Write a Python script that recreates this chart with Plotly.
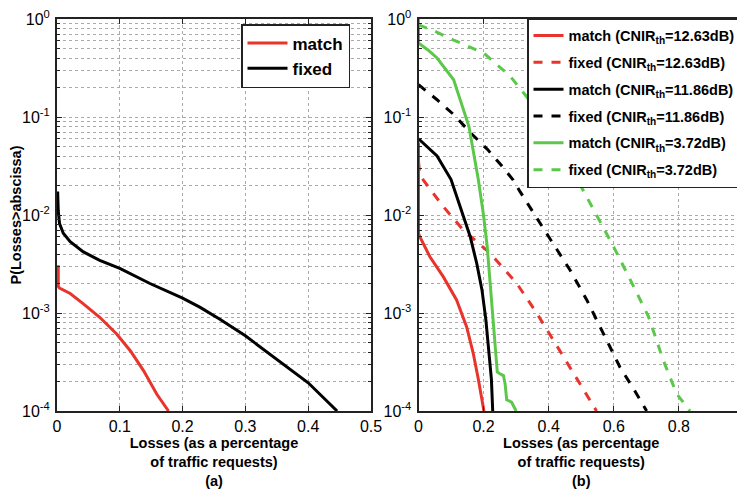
import plotly.graph_objects as go

# ---------- data: panel (a) ----------
a_match_x = [0.002, 0.002, 0.004, 0.021, 0.042, 0.068, 0.095, 0.117, 0.138, 0.159, 0.1776]
a_match_y = [3.07e-3, 1.87e-3, 1.8e-3, 1.58e-3, 1.24e-3, 9.05e-4, 6.1e-4, 4.1e-4, 2.57e-4, 1.48e-4, 1.0e-4]
a_fixed_x = [0.001, 0.002, 0.004, 0.010, 0.021, 0.042, 0.068, 0.1, 0.148, 0.2, 0.228, 0.26, 0.3, 0.35, 0.4, 0.446]
a_fixed_y = [1.74e-2, 1.1e-2, 8.2e-3, 6.5e-3, 5.35e-3, 4.2e-3, 3.45e-3, 2.85e-3, 2.0e-3, 1.42e-3, 1.14e-3, 8.6e-4, 5.85e-4, 3.37e-4, 1.94e-4, 1.0e-4]

# ---------- data: panel (b) ----------
b_m1263_x = [0.0, 0.0, 0.004, 0.035, 0.076, 0.117, 0.148, 0.168, 0.184, 0.201]
b_m1263_y = [5.5e-2, 6.5e-3, 6.0e-3, 3.75e-3, 2.35e-3, 1.36e-3, 7.2e-4, 3.9e-4, 2.1e-4, 1.0e-4]
b_f1263_x = [0.0, 0.004, 0.015, 0.076, 0.138, 0.22, 0.302, 0.363, 0.414, 0.465, 0.505, 0.547]
b_f1263_y = [3.5e-2, 2.6e-2, 2.27e-2, 1.22e-2, 7.0e-3, 4.07e-3, 2.0e-3, 1.0e-3, 5.3e-4, 2.8e-4, 1.7e-4, 1.0e-4]
b_m1186_x = [0.0, 0.057, 0.1, 0.128, 0.159, 0.179, 0.195, 0.207, 0.217, 0.224, 0.228]
b_m1186_y = [6.0e-2, 4.0e-2, 2.3e-2, 1.22e-2, 6.0e-3, 3.2e-3, 1.72e-3, 8.5e-4, 3.9e-4, 2.1e-4, 1.0e-4]
b_f1186_x = [0.0, 0.057, 0.108, 0.16, 0.211, 0.255, 0.291, 0.312, 0.4, 0.465, 0.517, 0.568, 0.619, 0.66, 0.701]
b_f1186_y = [0.214, 0.15, 0.106, 6.9e-2, 4.7e-2, 3.2e-2, 2.27e-2, 1.73e-2, 6.0e-3, 2.76e-3, 1.36e-3, 6.1e-4, 2.8e-4, 1.7e-4, 1.0e-4]
b_m372_x = [0.0, 0.0, 0.03, 0.057, 0.108, 0.155, 0.184, 0.199, 0.211, 0.219, 0.226, 0.234, 0.242, 0.25, 0.261, 0.266, 0.271, 0.286, 0.30]
b_m372_y = [1.0, 0.57, 0.48, 0.40, 0.24, 8.0e-2, 2.27e-2, 1.04e-2, 4.8e-3, 2.2e-3, 1.0e-3, 4.5e-4, 2.5e-4, 2.4e-4, 2.3e-4, 1.9e-4, 1.3e-4, 1.23e-4, 1.0e-4]
b_f372_x = [0.0, 0.05, 0.108, 0.2, 0.282, 0.333, 0.4, 0.45, 0.496, 0.55, 0.6, 0.65, 0.706, 0.752, 0.793, 0.834]
b_f372_y = [0.87, 0.75, 0.61, 0.45, 0.26, 0.16, 7.5e-2, 3.6e-2, 2.05e-2, 9.5e-3, 4.7e-3, 2.2e-3, 9.3e-4, 3.3e-4, 1.5e-4, 1.0e-4]

a_xticks = [0, 0.1, 0.2, 0.3, 0.4, 0.5]
a_xticklabels = ["0", "0.1", "0.2", "0.3", "0.4", "0.5"]
b_xticks = [0, 0.2, 0.4, 0.6, 0.8, 1.0]
b_xticklabels = ["0", "0.2", "0.4", "0.6", "0.8", "1"]
y_ticks = [1e-4, 1e-3, 1e-2, 1e-1, 1]
y_ticklabels = ["10<sup>-4</sup>", "10<sup>-3</sup>", "10<sup>-2</sup>", "10<sup>-1</sup>", "10<sup>0</sup>"]
y_minor = [m * 10 ** e for e in range(-4, 0) for m in range(2, 10)]

RED = "#e8342b"
BLACK = "#000000"
GREEN = "#5cc84a"
LW = 3

fig = go.Figure()

fig.add_trace(go.Scatter(x=a_match_x, y=a_match_y, mode="lines", name="<b>match</b>",
                         line=dict(color=RED, width=LW), xaxis="x", yaxis="y", legend="legend"))
fig.add_trace(go.Scatter(x=a_fixed_x, y=a_fixed_y, mode="lines", name="<b>fixed</b>",
                         line=dict(color=BLACK, width=LW), xaxis="x", yaxis="y", legend="legend"))

b_series = [
    (b_m1263_x, b_m1263_y, "match (CNIR<sub>th</sub>=12.63dB)", RED, "solid"),
    (b_f1263_x, b_f1263_y, "fixed (CNIR<sub>th</sub>=12.63dB)", RED, "dash"),
    (b_m1186_x, b_m1186_y, "match (CNIR<sub>th</sub>=11.86dB)", BLACK, "solid"),
    (b_f1186_x, b_f1186_y, "fixed (CNIR<sub>th</sub>=11.86dB)", BLACK, "dash"),
    (b_m372_x, b_m372_y, "match (CNIR<sub>th</sub>=3.72dB)", GREEN, "solid"),
    (b_f372_x, b_f372_y, "fixed (CNIR<sub>th</sub>=3.72dB)", GREEN, "dash"),
]
for i, (xs, ys, nm, col, dash) in enumerate(b_series):
    fig.add_trace(go.Scatter(x=xs, y=ys, mode="lines", name="<b>" + nm + "</b>",
                             line=dict(color=col, width=LW, dash=dash),
                             legendgroup="g%d" % i,
                             xaxis="x2", yaxis="y2", legend="legend2"))

FONT = "Liberation Sans, Arial, sans-serif"
# the page body has an 8px margin, so the figure is drawn at (8, 8) in the window
OFF = 8
W, H = 745 - OFF, 491 - OFF


def px(p):
    return (p - OFF) / W


def py(p):
    return 1 - (p - OFF) / H


ydom = [py(411), py(19)]

axis_common = dict(showline=True, linecolor="#222222", linewidth=2, mirror="ticks",
                   ticks="inside", ticklen=5, tickcolor="#222222",
                   showgrid=True, gridcolor="#aaaaaa", griddash="dot", gridwidth=1,
                   zeroline=False, ticklabeloverflow="allow", automargin=False,
                   tickfont=dict(family=FONT, size=16, color="black"))

yaxis_common = dict(axis_common, type="log", range=[-4, 0], tickmode="array",
                    tickvals=y_ticks, ticktext=y_ticklabels, ticklabelstandoff=2,
                    minor=dict(tickmode="array", tickvals=y_minor, ticks="inside", ticklen=3,
                               tickcolor="#222222", showgrid=True, gridcolor="#aaaaaa",
                               griddash="dot", gridwidth=1))

title_font = dict(family=FONT, size=14.5, color="black")

fig.update_layout(
    width=W, height=H,
    margin=dict(l=0, r=0, t=0, b=0, autoexpand=False),
    paper_bgcolor="white", plot_bgcolor="white",
    showlegend=True,
    xaxis=dict(axis_common, domain=[px(57), px(371)], range=[0, 0.5], tickmode="array",
               tickvals=a_xticks, ticktext=a_xticklabels, anchor="y",
               title=dict(text="<b>Losses (as a percentage<br>of traffic requests)<br>(a)</b>",
                          font=title_font, standoff=0)),
    yaxis=dict(yaxis_common, domain=ydom, anchor="x",
               title=dict(text="<b>P(Losses>abscissa)</b>", font=title_font, standoff=6)),
    xaxis2=dict(axis_common, domain=[px(418.5), px(744)], range=[0, 1], tickmode="array",
                tickvals=b_xticks, ticktext=b_xticklabels, anchor="y2",
                title=dict(text="<b>Losses (as percentage<br>of traffic requests)<br>(b)</b>",
                           font=title_font, standoff=0)),
    yaxis2=dict(yaxis_common, domain=ydom, anchor="x2"),
    legend=dict(x=px(241), y=py(24), xanchor="left", yanchor="top",
                bgcolor="white", bordercolor="#222222", borderwidth=1.5,
                font=dict(family=FONT, size=17, color="black"), itemwidth=40,
                tracegroupgap=0),
    legend2=dict(x=px(527), y=py(18), xanchor="left", yanchor="top",
                 bgcolor="white", bordercolor="#222222", borderwidth=1.5,
                 font=dict(family=FONT, size=14.5, color="black"), itemwidth=30,
                 tracegroupgap=5),
)

fig.write_html("out.html")
